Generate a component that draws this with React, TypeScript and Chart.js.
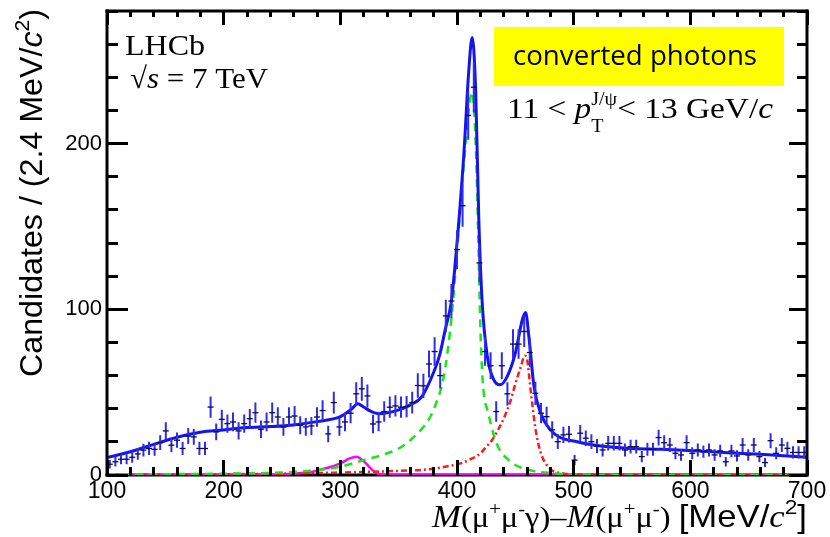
import React, { useEffect, useRef } from 'react';
import { Chart, registerables } from 'chart.js';

Chart.register(...registerables);

const SANS = '"Liberation Sans", Arial, Helvetica, sans-serif';
const SERIF = '"Liberation Serif", "Times New Roman", serif';

// Histogram bin centres (MeV/c^2)
const binCenters = [
  102.4, 107.2, 112, 116.8, 121.6, 126.4, 131.2, 136, 140.8, 145.6,
  150.4, 155.2, 160, 164.8, 169.6, 174.4, 179.2, 184, 188.8, 193.6,
  198.4, 203.2, 208, 212.8, 217.6, 222.4, 227.2, 232, 236.8, 241.6,
  246.4, 251.2, 256, 260.8, 265.6, 270.4, 275.2, 280, 284.8, 289.6,
  294.4, 299.2, 304, 308.8, 313.6, 318.4, 323.2, 328, 332.8, 337.6,
  342.4, 347.2, 352, 356.8, 361.6, 366.4, 371.2, 376, 380.8, 385.6,
  390.4, 395.2, 400, 404.8, 409.6, 414.4, 419.2, 424, 428.8, 433.6,
  438.4, 443.2, 448, 452.8, 457.6, 462.4, 467.2, 472, 476.8, 481.6,
  486.4, 491.2, 496, 500.8, 505.6, 510.4, 515.2, 520, 524.8, 529.6,
  534.4, 539.2, 544, 548.8, 553.6, 558.4, 563.2, 568, 572.8, 577.6,
  582.4, 587.2, 592, 596.8, 601.6, 606.4, 611.2, 616, 620.8, 625.6,
  630.4, 635.2, 640, 644.8, 649.6, 654.4, 659.2, 664, 668.8, 673.6,
  678.4, 683.2, 688, 692.8, 697.6,
];

// Candidates per bin
const counts = [
  6.5, 8, 9.5, 9.5, 10.7, 12.7, 15, 16, 15.5, 19.5,
  26.6, 18, 21, 16, 23.5, 23, 16, 16, 41, 26,
  33.6, 31, 32, 26.6, 31, 34, 37.6, 27.6, 32, 37.6,
  35, 29, 35, 35.6, 30, 29, 29.6, 35, 38.9, 24.8,
  43.7, 29, 32, 37.3, 49, 52, 47.7, 30.8, 32, 38.3,
  40.9, 41.7, 40.9, 41.3, 43.7, 54, 53.8, 67, 74.5, 60,
  96, 105, 136, 162.5, 217, 234, 128, 74.5, 65.9, 38.3,
  65.9, 49, 79, 79, 86.6, 73.9, 49.3, 37.3, 35.2, 27.2,
  20.1, 24.2, 24.6, 9, 25.2, 22.2, 20.1, 17.5, 15.1, 19.1,
  19.1, 19.1, 15.1, 17.1, 17.1, 11.1, 15.5, 15.5, 22.6, 19.5,
  18.1, 13.1, 12.1, 19.5, 13.1, 15.1, 14.1, 15.1, 12.1, 14.5,
  8, 14.5, 11.5, 18.1, 12.1, 18.1, 11.1, 7.5, 20.7, 13.1,
  18.1, 16.1, 13.6, 13.6, 13.6,
];

// Total fit (blue solid)
const fitX = [100, 120, 140, 160, 180, 200, 220, 240, 260, 280, 300, 310, 315, 320, 326, 333, 340, 350, 360, 370, 380, 385, 390, 395, 398, 401, 406, 410, 413, 416, 418.7, 421.6, 426, 431.6, 436.8, 443, 450, 456, 458.8, 461.6, 466, 471.7, 480, 488, 503, 517, 546, 575, 603, 632, 660, 700];
const fitY = [10.5, 14, 18.5, 22.8, 25.8, 27.2, 28.6, 29.2, 30.2, 32.2, 35.2, 40, 43, 41, 38.5, 37, 37.5, 39.3, 42.3, 47.5, 62, 72, 88, 104, 124, 148, 195, 243, 264, 232, 154, 104, 71.5, 57.4, 54.4, 59.4, 73.5, 93.7, 98, 83.6, 53.4, 37.3, 27.2, 22.8, 20.1, 18.1, 16.1, 15.5, 14.7, 13.5, 12.5, 10.7];

// chi_c1 component (green dashed)
const chic1X = [100, 200, 250, 280, 300, 320, 340, 350, 360, 370, 377, 383, 388, 392, 396, 400, 405, 410, 413, 416, 418, 420, 422, 427, 434, 446, 460, 483, 500, 600, 700];
const chic1Y = [0.3, 0.8, 1.5, 3, 5, 9, 13, 16, 21, 28, 35, 45, 57, 75, 100, 135, 180, 220, 231, 200, 150, 90, 57, 37, 19, 8, 3.4, 1, 0.3, 0, 0];

// chi_c2 component (red dash-dot)
const chic2X = [100, 250, 300, 350, 377, 390, 403, 413, 420, 425, 430, 435, 440, 446, 450, 455, 458, 460, 463, 465, 467, 470, 473, 477, 481, 486, 492, 500, 550, 700];
const chic2Y = [0.3, 0.8, 1.5, 2.5, 3.5, 5, 7, 10, 13, 17, 21, 27, 34, 45, 55, 66, 72, 70, 52, 40, 29, 18, 11, 6, 3, 1.5, 0.8, 0.4, 0.2, 0];

// small extra component (magenta)
const magX = [100, 240, 260, 276, 290, 300, 308, 314, 318, 322, 326, 330, 335, 340, 700];
const magY = [0, 0, 0.8, 2, 4.5, 7, 10, 11, 9.5, 7, 4, 1.5, 0.3, 0, 0];

// Axis ranges and tick spacing
const X_MIN = 100;
const X_MAX = 700;
const X_MAJOR = 100;
const X_MINOR = 20;
const Y_MIN = 0;
const Y_MAX = 280;
const Y_MAJOR = 100;
const Y_MINOR = 20;

type Seg = { t: string; f: string; dy?: number; stack?: boolean };

function drawSegs(ctx: CanvasRenderingContext2D, segs: Seg[], x: number, y: number, width: number) {
  ctx.save();
  let total = 0;
  let stackW = 0;
  for (const s of segs) {
    ctx.font = s.f;
    const w = ctx.measureText(s.t).width;
    if (s.stack) { stackW = w; continue; }
    total += Math.max(w, stackW);
    stackW = 0;
  }
  const sx = width / total;
  ctx.translate(x, y);
  ctx.scale(sx, 1);
  ctx.textAlign = 'left';
  ctx.textBaseline = 'alphabetic';
  ctx.fillStyle = '#000';
  let cx = 0;
  stackW = 0;
  for (const s of segs) {
    ctx.font = s.f;
    const w = ctx.measureText(s.t).width;
    ctx.fillText(s.t, cx, s.dy || 0);
    if (s.stack) { stackW = w; continue; }
    cx += Math.max(w, stackW);
    stackW = 0;
  }
  ctx.restore();
}

const errorBars = {
  id: 'errorBars',
  beforeDatasetDraw(chart: any, args: any) {
    if (args.index !== 0) return;
    const meta = chart.getDatasetMeta(0);
    const ys = chart.scales.y;
    const { ctx, chartArea } = chart;
    ctx.save();
    ctx.beginPath();
    ctx.rect(chartArea.left, chartArea.top, chartArea.right - chartArea.left, chartArea.bottom - chartArea.top);
    ctx.clip();
    ctx.setLineDash([]);
    ctx.strokeStyle = 'rgb(45,45,235)';
    ctx.lineWidth = 2;
    ctx.beginPath();
    meta.data.forEach((el: any, i: number) => {
      const v = counts[i];
      const e = Math.sqrt(v);
      ctx.moveTo(el.x, ys.getPixelForValue(v + e));
      ctx.lineTo(el.x, ys.getPixelForValue(Math.max(0, v - e)));
    });
    ctx.stroke();
    ctx.restore();
  },
};

const frameLines = {
  id: 'frameLines',
  beforeDatasetsDraw(chart: any) {
    const ctx: CanvasRenderingContext2D = chart.ctx;
    const a = chart.chartArea;
    ctx.save();
    ctx.fillStyle = '#000';
    ctx.fillRect(a.left - 1.5, a.bottom - 1.5, a.right - a.left + 3, 3);
    ctx.restore();
  },
  afterDraw(chart: any) {
    const ctx: CanvasRenderingContext2D = chart.ctx;
    const a = chart.chartArea;
    ctx.save();
    ctx.fillStyle = '#000';
    ctx.fillRect(a.left - 1.5, a.top - 1.5, 3, a.bottom - a.top + 3);
    ctx.fillRect(a.right - 1.5, a.top - 1.5, 3, a.bottom - a.top + 3);
    ctx.fillRect(a.left - 1.5, a.top - 1.5, a.right - a.left + 3, 3);
    ctx.restore();
  },
};

const labels = {
  id: 'labels',
  afterDraw(chart: any) {
    const ctx: CanvasRenderingContext2D = chart.ctx;
    drawSegs(ctx, [{ t: 'LHCb', f: `30px ${SERIF}` }], 125, 55, 80);
    drawSegs(ctx, [
      { t: '\u221A', f: `30px ${SERIF}` },
      { t: 's', f: `italic 30px ${SERIF}` },
      { t: ' = 7 TeV', f: `30px ${SERIF}` },
    ], 130, 88, 138);
    ctx.save();
    ctx.fillStyle = '#ffff00';
    ctx.fillRect(494, 27, 290, 59);
    ctx.restore();
    drawSegs(ctx, [{ t: 'converted photons', f: `28px "Open Sans", Lato, sans-serif` }], 513, 65, 244);
    drawSegs(ctx, [
      { t: '11 < ', f: `30px ${SERIF}` },
      { t: 'p', f: `italic 30px ${SERIF}` },
      { t: 'J/\u03C8', f: `18px ${SERIF}`, dy: -13, stack: true },
      { t: 'T', f: `18px ${SERIF}`, dy: 14 },
      { t: '< 13 GeV/', f: `30px ${SERIF}` },
      { t: 'c', f: `italic 30px ${SERIF}` },
    ], 507, 118, 266);
    ctx.save();
    ctx.translate(42, 377);
    ctx.rotate(-Math.PI / 2);
    drawSegs(ctx, [
      { t: 'Candidates / (2.4 MeV/', f: `32px ${SANS}` },
      { t: 'c', f: `italic 32px ${SANS}` },
      { t: '2', f: `21px ${SANS}`, dy: -13 },
      { t: ')', f: `32px ${SANS}` },
    ], 0, 0, 368);
    ctx.restore();
    drawSegs(ctx, [
      { t: 'M', f: `italic 32px ${SERIF}` },
      { t: '(\u03BC', f: `30px ${SERIF}` },
      { t: '+', f: `19px ${SERIF}`, dy: -12 },
      { t: '\u03BC', f: `30px ${SERIF}` },
      { t: '-', f: `19px ${SERIF}`, dy: -12 },
      { t: '\u03B3)\u2013', f: `30px ${SERIF}` },
      { t: 'M', f: `italic 32px ${SERIF}` },
      { t: '(\u03BC', f: `30px ${SERIF}` },
      { t: '+', f: `19px ${SERIF}`, dy: -12 },
      { t: '\u03BC', f: `30px ${SERIF}` },
      { t: '-', f: `19px ${SERIF}`, dy: -12 },
      { t: ') ', f: `30px ${SERIF}` },
      { t: '[MeV/', f: `32px ${SANS}` },
      { t: 'c', f: `italic 32px ${SERIF}` },
      { t: '2', f: `21px ${SANS}`, dy: -13 },
      { t: ']', f: `32px ${SANS}` },
    ], 432, 527, 375);
  },
};

function pts(xs: number[], ys: number[]) {
  return xs.map((x, i) => ({ x, y: ys[i] }));
}

// Inward tick marks drawn by the axes themselves: negative tick length,
// minor ticks shortened with a dash pattern.
function tickGrid(len: number, minorDash: number[], major: number) {
  return {
    display: true,
    drawOnChartArea: false,
    drawTicks: true,
    tickLength: -len,
    tickWidth: 3,
    tickColor: '#000',
    z: 1,
    tickBorderDash: (c: any) => {
      const v = c && c.tick ? Math.round(c.tick.value) : 0;
      return v % major === 0 ? [] : minorDash;
    },
  };
}

function isMajorLabel(major: number) {
  return (v: any) => {
    const n = Math.round(Number(v));
    return n % major === 0 ? String(n) : '';
  };
}

export default function App() {
  const ref = useRef<HTMLCanvasElement>(null);
  useEffect(() => {
    const chart = new Chart(ref.current as HTMLCanvasElement, {
      type: 'scatter',
      data: {
        datasets: [
          {
            label: 'Data',
            data: pts(binCenters, counts),
            pointStyle: 'line',
            pointRadius: 3,
            borderColor: '#101030',
            borderWidth: 1.3,
            showLine: false,
            order: 0,
          } as any,
          {
            label: 'Fit',
            data: pts(fitX, fitY),
            showLine: true,
            borderColor: 'rgb(20,20,240)',
            borderWidth: 3,
            pointRadius: 0,
            cubicInterpolationMode: 'monotone',
            order: 1,
          },
          {
            label: 'chi_c1',
            data: pts(chic1X, chic1Y),
            showLine: true,
            borderColor: 'rgb(25,230,25)',
            borderWidth: 2.5,
            borderDash: [8, 6],
            pointRadius: 0,
            cubicInterpolationMode: 'monotone',
            order: 2,
          },
          {
            label: 'chi_c2',
            data: pts(chic2X, chic2Y),
            showLine: true,
            borderColor: 'rgb(255,25,25)',
            borderWidth: 2.5,
            borderDash: [6, 3, 2, 3],
            pointRadius: 0,
            cubicInterpolationMode: 'monotone',
            order: 3,
          },
          {
            label: 'other',
            data: pts(magX, magY),
            showLine: true,
            borderColor: 'rgb(255,0,255)',
            borderWidth: 2.5,
            pointRadius: 0,
            cubicInterpolationMode: 'monotone',
            order: 4,
          },
        ],
      },
      options: {
        animation: false,
        responsive: false,
        events: [],
        layout: { padding: { top: 11, right: 23, left: 0, bottom: 0 } },
        plugins: { legend: { display: false }, tooltip: { enabled: false } },
        scales: {
          x: {
            type: 'linear',
            position: 'bottom',
            min: X_MIN,
            max: X_MAX,
            grid: tickGrid(15, [8, 100], X_MAJOR),
            border: { display: false },
            ticks: {
              stepSize: X_MINOR,
              callback: isMajorLabel(X_MAJOR),
              color: '#000',
              font: { family: SANS, size: 23 },
              padding: 18,
              maxRotation: 0,
              minRotation: 0,
              autoSkip: false,
            },
            afterFit: (s: any) => { s.height = 62; s.paddingLeft = 0; s.paddingRight = 0; },
          },
          xTop: {
            type: 'linear',
            position: 'top',
            min: X_MIN,
            max: X_MAX,
            grid: tickGrid(14, [0, 8, 6, 100], X_MAJOR),
            border: { display: false },
            ticks: { stepSize: X_MINOR, display: false, autoSkip: false },
            afterFit: (s: any) => { s.height = 0; s.paddingLeft = 0; s.paddingRight = 0; },
          },
          y: {
            type: 'linear',
            position: 'left',
            min: Y_MIN,
            max: Y_MAX,
            grid: tickGrid(21, [0, 10, 11, 100], Y_MAJOR),
            border: { display: false },
            ticks: {
              stepSize: Y_MINOR,
              callback: isMajorLabel(Y_MAJOR),
              color: '#000',
              font: { family: SANS, size: 22 },
              padding: 26,
              autoSkip: false,
            },
            afterFit: (s: any) => { s.width = 107; s.paddingTop = 0; s.paddingBottom = 0; },
          },
          yRight: {
            type: 'linear',
            position: 'right',
            min: Y_MIN,
            max: Y_MAX,
            grid: tickGrid(18, [10, 100], Y_MAJOR),
            border: { display: false },
            ticks: { stepSize: Y_MINOR, display: false, autoSkip: false },
            afterFit: (s: any) => { s.width = 0; s.paddingTop = 0; s.paddingBottom = 0; },
          },
        },
      },
      plugins: [errorBars, frameLines, labels],
    } as any);
    return () => chart.destroy();
  }, []);
  return (
    <canvas
      ref={ref}
      width={830}
      height={537}
      style={{ position: 'fixed', left: 0, top: 0, width: 830, height: 537 }}
    />
  );
}
